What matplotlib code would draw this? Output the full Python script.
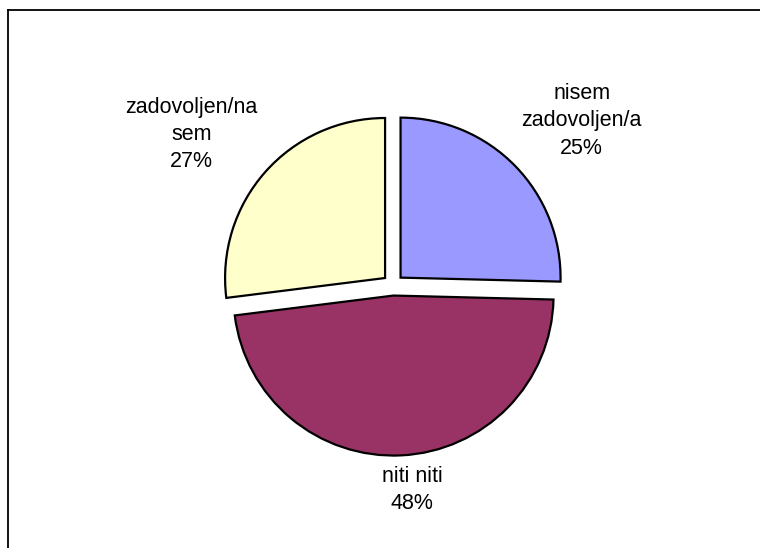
import matplotlib
matplotlib.use('Agg')
import matplotlib.pyplot as plt
from matplotlib.lines import Line2D

# Survey answers, clockwise from the top
labels = ['nisem\nzadovoljen/a', 'niti niti', 'zadovoljen/na\nsem']
counts = [16, 30, 17]
colors = ['#9999FF', '#993366', '#FFFFCC']
# where each label sits, in units of the pie radius
label_pos = [(1.18, 1.025), (0.12, -1.28), (-1.26, 0.94)]

plt.rcParams['font.family'] = ['Liberation Sans', 'DejaVu Sans']

fig = plt.figure(figsize=(7.6, 5.48), dpi=100)
ax = fig.add_axes([0, 0, 1, 1])

wedges, _ = ax.pie(counts, colors=colors, startangle=90, counterclock=False,
                   explode=[0.066] * len(counts), radius=1.0,
                   wedgeprops={'edgecolor': 'black', 'linewidth': 1.6})

total = sum(counts)
for lab, c, (x, y) in zip(labels, counts, label_pos):
    ax.text(x, y, f'{lab}\n{round(100 * c / total)}%', ha='center', va='center',
            fontsize=15.5, linespacing=1.4, color='black')

# 160 px per unit radius, centre at (393, 285) px from top-left
ax.set_xlim(-393 / 160, (760 - 393) / 160)
ax.set_ylim(-(548 - 285) / 160, 285 / 160)
ax.set_aspect('equal')
ax.axis('off')

# chart area frame (only top and left edges fall inside the image)
fig.lines.extend([
    Line2D([8 / 760, 8 / 760], [0, 1 - 9.5 / 548], transform=fig.transFigure, color='black', lw=1.3),
    Line2D([8 / 760, 1], [1 - 9.5 / 548, 1 - 9.5 / 548], transform=fig.transFigure, color='black', lw=1.3),
])

fig.savefig('out.png', dpi=100)
